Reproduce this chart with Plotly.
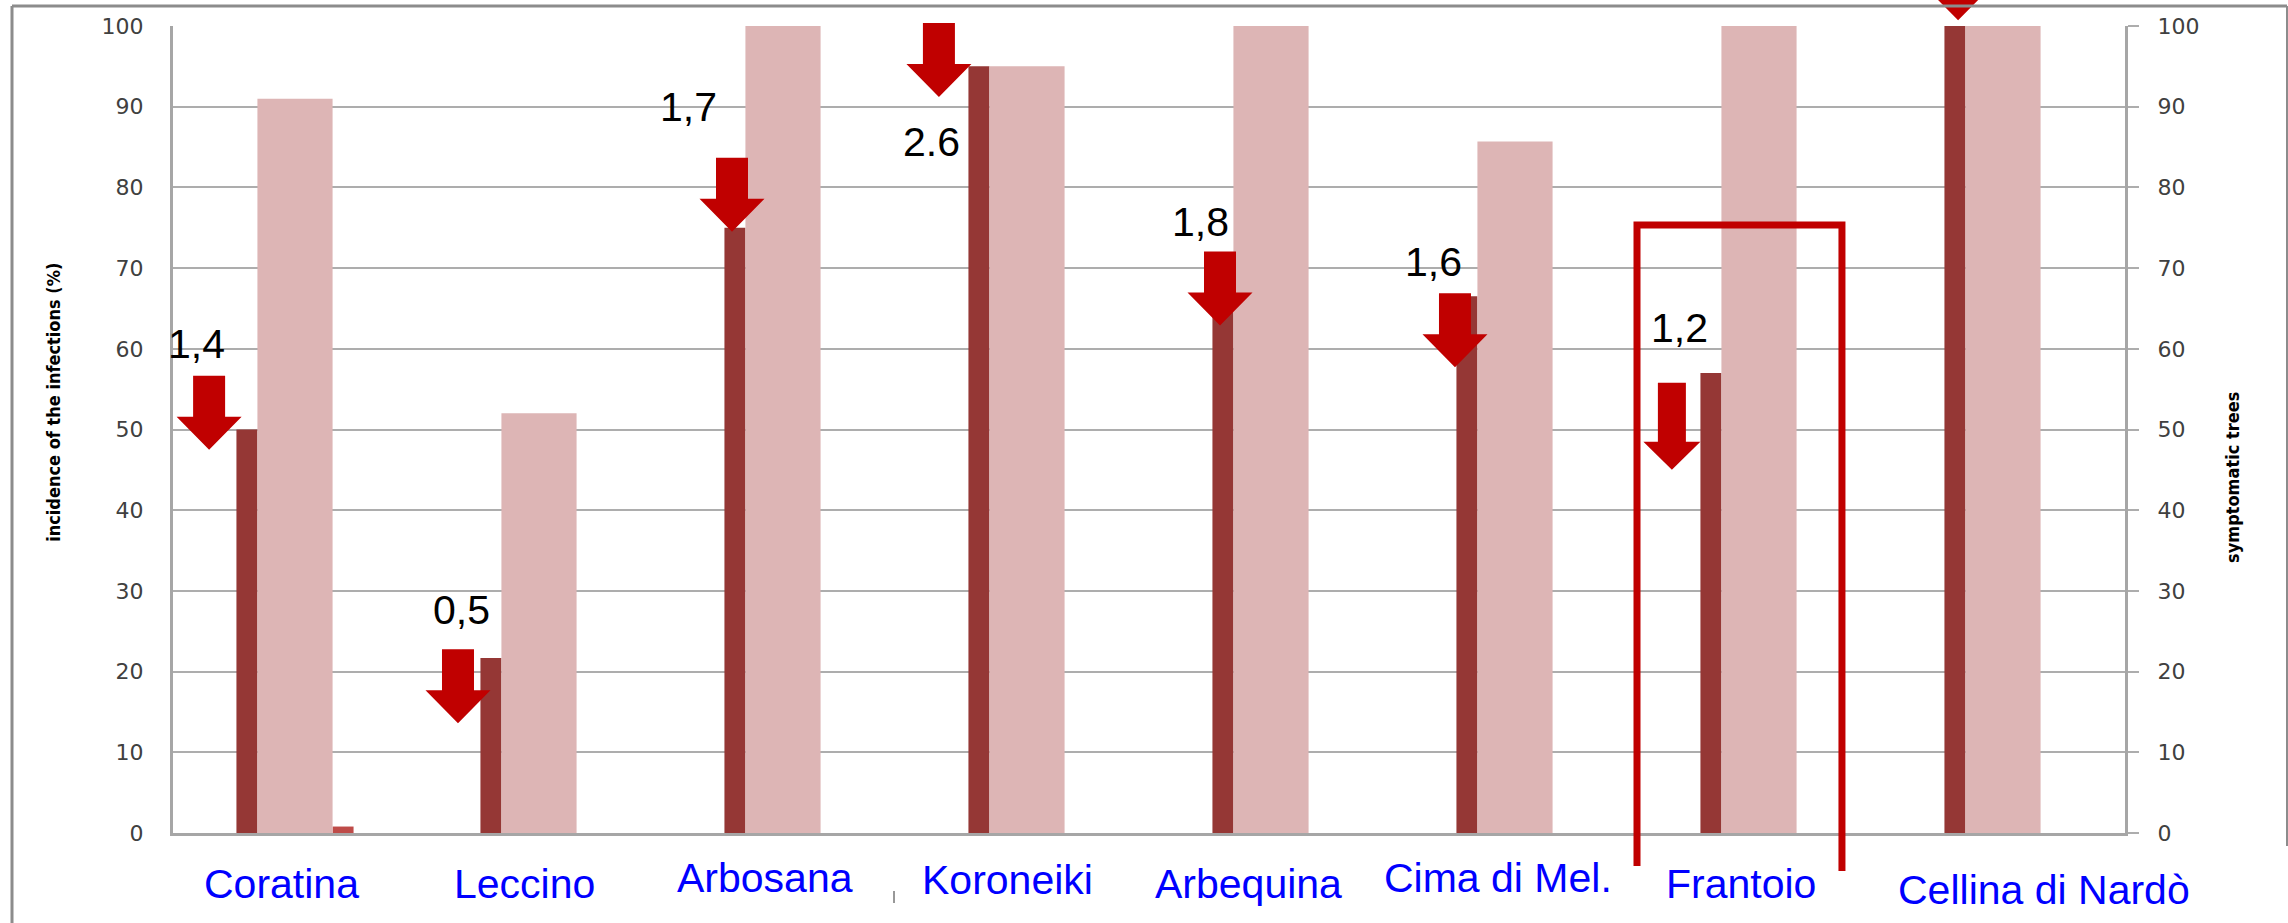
import plotly.graph_objects as go

# ---- data ----
cultivars = ["Coratina", "Leccino", "Arbosana", "Koroneiki", "Arbequina",
             "Cima di Mel.", "Frantoio", "Cellina di Nardò"]
incidence = [50, 21.7, 75, 95, 66, 66.5, 57, 100]          # incidence of the infections (%)
symptomatic = [91, 52, 100, 95, 100, 85.7, 100, 100]       # symptomatic trees
third_series = [0.8, 0, 0, 0, 0, 0, 0, 0]
ratio_labels = ["1,4", "0,5", "1,7", "2.6", "1,8", "1,6", "1,2", ""]
y_ticks = list(range(0, 101, 10))

# ---- placement of the callouts (category offset, value) ----
arrow_dx = [-0.352, -0.332, -0.209, -0.361, -0.209, -0.246, -0.357, -0.184]
arrow_tip = [47.5, 13.6, 74.5, 91.2, 62.9, 57.7, 45.0, 100.7]
arrow_size = [(16, 32.5, 33, 74)] * 6 + [(14, 28.5, 28, 87), (16, 32.5, 33, 74)]
label_dx = [-0.402, -0.316, -0.389, -0.393, -0.287, -0.332, -0.324, 0]
label_y = [60.6, 27.6, 90.0, 85.6, 75.7, 70.8, 62.6, 0]
name_xshift = [-14, -15, -18, -20, -23, -17, -18, 41]
name_yshift = [-51, -51, -45, -47, -51, -45, -51, -57]

W, H = 2288, 923
ML, MR, MT, MB = 173, 163, 26, 90
PW, PH = W - ML - MR, H - MT - MB

DARK = "#953735"
PINK = "#DDB5B5"
LIGHT_RED = "#BE4B48"
ARROW = "#C00000"
GRID = "#ADADAD"
AXIS = "#A6A6A6"

x_idx = list(range(len(cultivars)))

fig = go.Figure()
fig.add_trace(go.Bar(x=x_idx, y=incidence, width=0.086, offset=-0.24,
                     marker=dict(color=DARK, line=dict(width=0)),
                     name="incidence of the infections (%)"))
fig.add_trace(go.Bar(x=x_idx, y=third_series, width=0.086, offset=0.154,
                     marker=dict(color=LIGHT_RED, line=dict(width=0)),
                     name="series 3"))
fig.add_trace(go.Bar(x=x_idx, y=symptomatic, width=0.308, offset=-0.154,
                     marker=dict(color=PINK, line=dict(width=0)),
                     name="symptomatic trees", yaxis="y2"))


def arrow_path(shaft_half, head_half, head_h, total_h):
    pts = [(0, 0), (-head_half, head_h), (-shaft_half, head_h), (-shaft_half, total_h),
           (shaft_half, total_h), (shaft_half, head_h), (head_half, head_h)]
    return "M " + " L ".join(f"{x},{y}" for x, y in pts) + " Z"


def px_x(px):
    return (px - ML) / PW


def px_y(py):
    return (H - MB - py) / PH


shapes = []
for i in x_idx:
    shapes.append(dict(type="path", xref="x", yref="paper",
                       xsizemode="pixel", ysizemode="pixel",
                       xanchor=i + arrow_dx[i], yanchor=arrow_tip[i] / 100,
                       path=arrow_path(*arrow_size[i]),
                       fillcolor=ARROW, line=dict(width=0), layer="above"))

# open-bottom frame around Frantoio
shapes.append(dict(type="path", xref="x", yref="paper",
                   path=f"M 5.5,{px_y(866)} L 5.5,{px_y(225)} L 6.34,{px_y(225)} L 6.34,{px_y(871)}",
                   line=dict(color=ARROW, width=7), layer="above"))

# outer border of the chart
fl, ft, fr = px_x(12), px_y(6), px_x(2287)
shapes.append(dict(type="line", xref="paper", yref="paper", x0=fl, x1=fl, y0=px_y(930), y1=ft,
                   line=dict(color="#8C8C8C", width=3)))
shapes.append(dict(type="line", xref="paper", yref="paper", x0=fl, x1=fr, y0=ft, y1=ft,
                   line=dict(color="#8C8C8C", width=3)))
shapes.append(dict(type="line", xref="paper", yref="paper", x0=fr, x1=fr, y0=px_y(846), y1=ft,
                   line=dict(color="#8C8C8C", width=2)))
# small stray tick below the axis
shapes.append(dict(type="line", xref="paper", yref="paper", x0=px_x(894), x1=px_x(894),
                   y0=px_y(903), y1=px_y(891), line=dict(color="#333333", width=1)))

annotations = []
for i in x_idx:
    if ratio_labels[i]:
        annotations.append(dict(x=i + label_dx[i], y=label_y[i], xref="x", yref="y",
                                text=ratio_labels[i], showarrow=False,
                                font=dict(family="Liberation Sans, Arial", size=41, color="black")))
    annotations.append(dict(x=i, y=0, xref="x", yref="paper", yanchor="middle",
                            xshift=name_xshift[i], yshift=name_yshift[i],
                            text=cultivars[i], showarrow=False,
                            font=dict(family="Liberation Sans, Arial", size=41, color="#0000FF")))

title_font = dict(family="Liberation Sans Narrow, DejaVu Sans Condensed, Arial Narrow, sans-serif",
                  size=18, color="black", weight="bold")
annotations.append(dict(x=0, y=0.533, xref="paper", yref="paper", xshift=-119,
                        xanchor="center", yanchor="middle",
                        text="incidence of the infections (%)", textangle=-90,
                        showarrow=False, font=title_font))
annotations.append(dict(x=1, y=0.44, xref="paper", yref="paper", xshift=108,
                        xanchor="center", yanchor="middle",
                        text="symptomatic trees", textangle=-90,
                        showarrow=False, font=title_font))

tick_font = dict(family="DejaVu Sans, Verdana", size=22, color="#404040")

fig.update_layout(
    width=W, height=H,
    margin=dict(l=ML, r=MR, t=MT, b=MB),
    paper_bgcolor="white", plot_bgcolor="white",
    barmode="overlay", showlegend=False,
    xaxis=dict(range=[-0.5, len(cultivars) - 0.5], showticklabels=False, showgrid=False,
               zeroline=False, showline=True, linecolor=AXIS, linewidth=3, ticks=""),
    yaxis=dict(range=[0, 100], tickvals=y_ticks, showgrid=True, gridcolor=GRID, gridwidth=1.5,
               zeroline=False, showline=True, linecolor=AXIS, linewidth=3, ticks="",
               tickfont=tick_font, ticklabelstandoff=22),
    yaxis2=dict(range=[0, 100], tickvals=y_ticks, overlaying="y", side="right",
                showgrid=False, zeroline=False, showline=True, linecolor=AXIS, linewidth=3,
                ticks="outside", ticklen=11, tickcolor=GRID, tickwidth=1.5,
                tickfont=tick_font, ticklabelstandoff=14),
    shapes=shapes,
    annotations=annotations,
)

fig.write_html("out.html")
